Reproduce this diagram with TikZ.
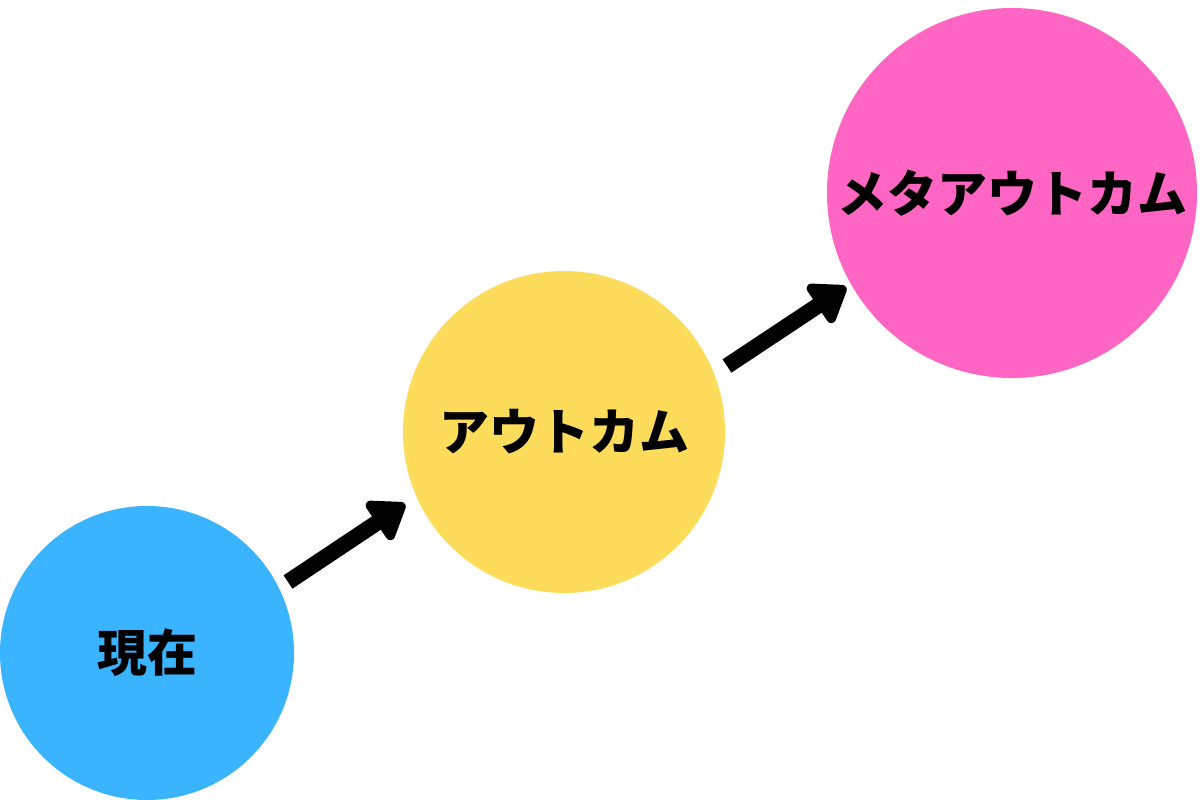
\documentclass[tikz,border=0pt]{standalone}
\usepackage{fontspec}
\newfontfamily\jp{Noto Sans CJK JP Black}[BoldFont={Noto Sans CJK JP Black}]
\usetikzlibrary{arrows.meta}
\definecolor{cblue}{HTML}{3BB4FF}
\definecolor{cyellow}{HTML}{FDDC5C}
\definecolor{cpink}{HTML}{FF66C4}
\begin{document}
\begin{tikzpicture}[x=1pt,y=-1pt,
  bub/.style={circle,inner sep=0pt,font=\jp\fontsize{50}{50}\selectfont},
  arr/.style={line width=16pt,-{Triangle[length=38pt,width=52pt,round]}}]
\useasboundingbox[fill=white] (0,0) rectangle (1200,800);
\node[bub,fill=cblue,minimum size=294pt] (now) at (147,653) {現在};
\node[bub,fill=cyellow,minimum size=322pt] (out) at (564,432) {アウトカム};
\node[bub,fill=cpink,minimum size=370pt] (meta) at (1012,193) {メタアウトカム};
\coordinate (a1s) at (288,582); \coordinate (a1e) at (405,504);
\coordinate (a2s) at (727,366); \coordinate (a2e) at (846,287);
\draw[arr] (a1s) -- (a1e);
\draw[arr] (a2s) -- (a2e);
\end{tikzpicture}
\end{document}
